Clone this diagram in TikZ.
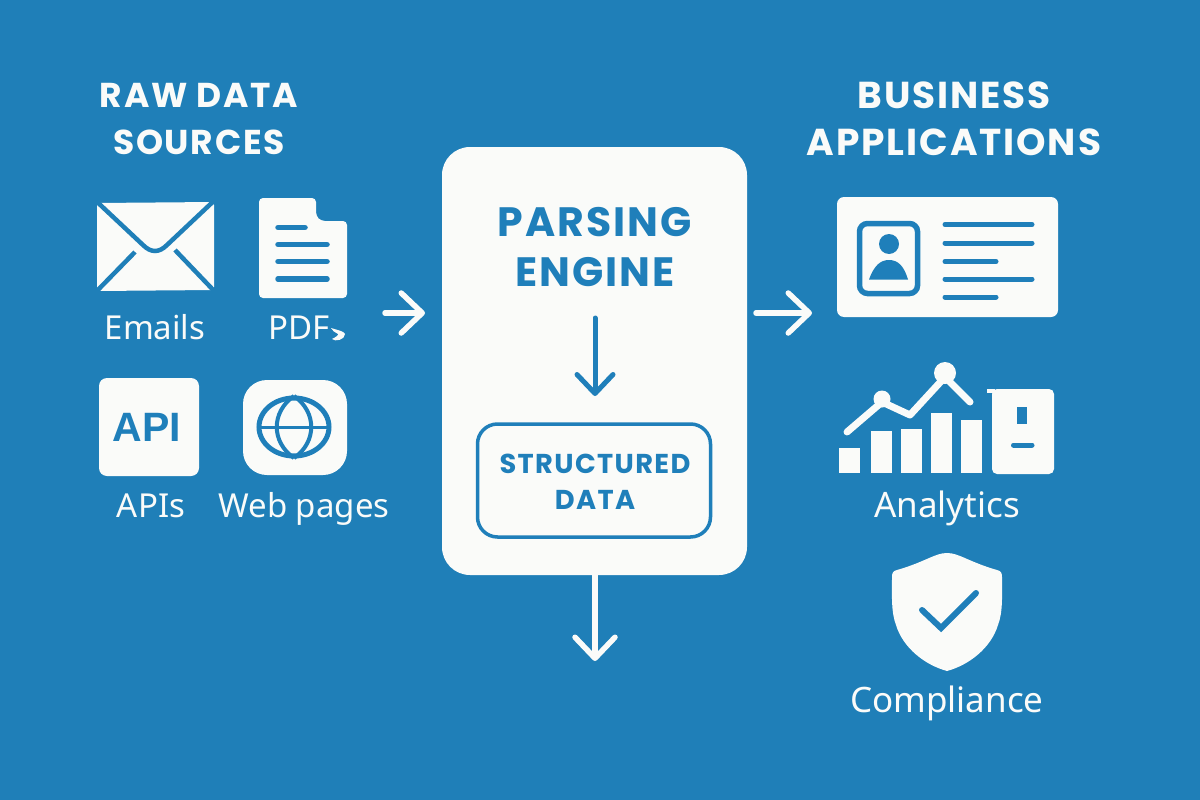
\documentclass[tikz,border=0pt]{standalone}
\usepackage{fontspec}
\setmainfont{Noto Sans}
\newfontfamily\headf[LetterSpace=5]{Poppins}
\newfontfamily\apif{Liberation Sans}
\usetikzlibrary{arrows.meta}
\definecolor{bgblue}{HTML}{1F7FB8}
\definecolor{ink}{HTML}{1F7FBA}
\definecolor{paper}{HTML}{FAFBF9}
\tikzset{
  plate/.style={fill=paper,rounded corners=#1,inner sep=0pt},
  plate/.default=6pt,
  lbl/.style={text=paper,font=\fontsize{33}{36}\selectfont,inner sep=0pt,anchor=base},
  lblbig/.style={text=paper,font=\fontsize{35}{36}\selectfont,inner sep=0pt,anchor=base},
  headtxt/.style={text=paper,font=\headf\bfseries\fontsize{34.5}{47}\selectfont,align=center,inner sep=0pt},
  headbig/.style={text=paper,font=\headf\bfseries\fontsize{37.5}{47}\selectfont,align=center,inner sep=0pt},
  wflow/.style={draw=paper,line width=5.5pt,line cap=round,-{Straight Barb[length=21pt,width=40pt,round]}},
  iflow/.style={draw=ink,line width=5pt,line cap=round,-{Straight Barb[length=19pt,width=36pt,round]}},
  rule/.style={draw=ink,line width=5.5pt,line cap=round},
  thin/.style={draw=ink,line width=4pt},
  cut/.style={draw=bgblue,line width=4.5pt,line cap=butt},
}
\begin{document}
\begin{tikzpicture}[x=1pt,y=-1pt]
\useasboundingbox (0,0) rectangle (1200,800);
\fill[bgblue] (0,0) rectangle (1200,800);
% headings
\node[headtxt] (hraw) at (199,119) {RAW DATA\\SOURCES};
\node[headbig] (hbiz) at (954,119) {BUSINESS\\APPLICATIONS};
% envelope
\fill[paper,rounded corners=3pt] (97,203) -- (214,202) -- (214,290) -- (97,291) -- cycle;
\draw[cut] (94,199) -- (143,245) .. controls (151,253) and (159,253) .. (167,245) -- (218,197);
\draw[cut] (93,295) -- (135,252);
\draw[cut] (218,295) -- (175,250);
\node[lbl] (emails) at (155,339) {Emails};
% document
\path[fill=paper,rounded corners=4pt] (259,198) -- (316,198) -- (316,216) -- (321,221) -- (347,221) -- (347,298) -- (259,298) -- cycle;
\draw[rule] (278,227.5) -- (305,227.5);
\draw[rule] (278,244.5) -- (327,244.5);
\draw[rule] (278,261.5) -- (327,261.5);
\draw[rule] (278,279) -- (327,279);
\node[lbl] (pdf) at (299,339) {PDF};
\fill[paper] (331,328) .. controls (337,330) and (344,331) .. (345,334) .. controls (345,340) and (335,342) .. (332,339) .. controls (336,337) and (339,335) .. (338,334) .. controls (335,332) and (332,331) .. (331,328) -- cycle;
% API
\node[plate=8pt,minimum width=100pt,minimum height=98pt] (apibox) at (149,427) {};
\node[text=ink,inner sep=0pt,font=\apif\bfseries\fontsize{41}{41}\selectfont] (apitxt) at (147,427) {API};
\node[lbl] (apis) at (151,517) {APIs};
% web
\node[plate=24pt,minimum width=104pt,minimum height=95pt] (webbox) at (295,427.5) {};
\draw[thin,line width=5pt] (294,427) ellipse [x radius=35,y radius=29];
\draw[thin] (294,396) .. controls (271,412) and (271,442) .. (294,458);
\draw[thin] (294,396) .. controls (317,412) and (317,442) .. (294,458);
\draw[thin,line width=3pt] (258,427) -- (330,427);
\node[lbl] (web) at (304,517) {Web pages};
% engine
\node[plate=28pt,minimum width=305pt,minimum height=428pt] (engine) at (594.5,361) {};
\node[text=ink,font=\headf\bfseries\fontsize{41}{50}\selectfont,align=center,inner sep=0pt] (ptxt) at (595,247) {PARSING\\ENGINE};
\coordinate (pstart) at (595,318);
\node[draw=ink,line width=3.5pt,fill=none,rounded corners=20pt,minimum width=233pt,minimum height=113pt,inner sep=0pt] (sbox) at (594,480.5) {};
\node[text=ink,font=\headf\bfseries\fontsize{27.3}{36}\selectfont,align=center,inner sep=0pt] (stxt) at (595,482) {STRUCTURED\\DATA};
\coordinate (pend) at (595,396);
\draw[iflow] (pstart) -- (pend);
% flows
\coordinate (a1s) at (385,313); \coordinate (a1e) at (425,313);
\draw[wflow] (a1s) -- (a1e);
\coordinate (a2s) at (756,313); \coordinate (a2e) at (812,313);
\draw[wflow] (a2s) -- (a2e);
\coordinate (a3e) at (595,661);
\draw[wflow] (engine.south) ++(0.5,0) coordinate (a3s) -- (a3e);
% card
\node[plate=7pt,minimum width=221pt,minimum height=120pt] (card) at (947.5,257) {};
\draw[draw=ink,line width=5.5pt,rounded corners=8pt] (859.5,223.5) rectangle (917.5,293.5);
\fill[ink] (889,244) circle (10);
\fill[ink] (869,279.5) .. controls (874,266) and (880,260) .. (889,260) .. controls (898,260) and (904,266) .. (908,279.5) -- cycle;
\draw[rule,line width=5pt] (945,224.5) -- (1032,224.5);
\draw[rule,line width=5pt] (945,243) -- (1032,243);
\draw[rule,line width=5pt] (945,261.5) -- (996,261.5);
\draw[rule,line width=5pt] (945,279) -- (1032,279);
\draw[rule,line width=5pt] (945,297) -- (996,297);
% analytics
\fill[paper] (839,448) rectangle (860,473);
\fill[paper] (871,431) rectangle (892,473);
\fill[paper] (901,429) rectangle (922,473);
\fill[paper] (931,413) rectangle (952,473);
\fill[paper] (961,420) rectangle (982,473);
\node[plate=5pt,minimum width=62pt,minimum height=85pt] (bigbox) at (1023,431.5) {};
\fill[paper] (987,389) rectangle (995,393);
\fill[ink] (1017,407) rectangle (1027,424);
\draw[rule,line width=5pt] (1013.5,445) -- (1032,445);
\draw[draw=paper,line width=7pt,line cap=round,line join=round] (847,432) -- (882,402) -- (910,415) -- (945,377) -- (970,402);
\fill[paper] (882,399) circle (8.5);
\fill[paper] (945,373) circle (11);
\node[lblbig] (analytics) at (947,517) {Analytics};
% shield
\fill[paper] (947,553) .. controls (935,553) and (925,562) .. (897,570) .. controls (893,571) and (892,573) .. (892,577) .. controls (892,595) and (891,612) .. (896,625) .. controls (903,648) and (925,665) .. (947,671) .. controls (969,665) and (991,648) .. (998,625) .. controls (1003,612) and (1002,595) .. (1002,577) .. controls (1002,573) and (1001,571) .. (997,570) .. controls (969,562) and (959,553) .. (947,553) -- cycle;
\draw[draw=ink,line width=6pt,line cap=round,line join=miter] (922,610) -- (941,628) -- (976,593);
\node[lblbig] (compl) at (947,712) {Compliance};
\end{tikzpicture}
\end{document}
